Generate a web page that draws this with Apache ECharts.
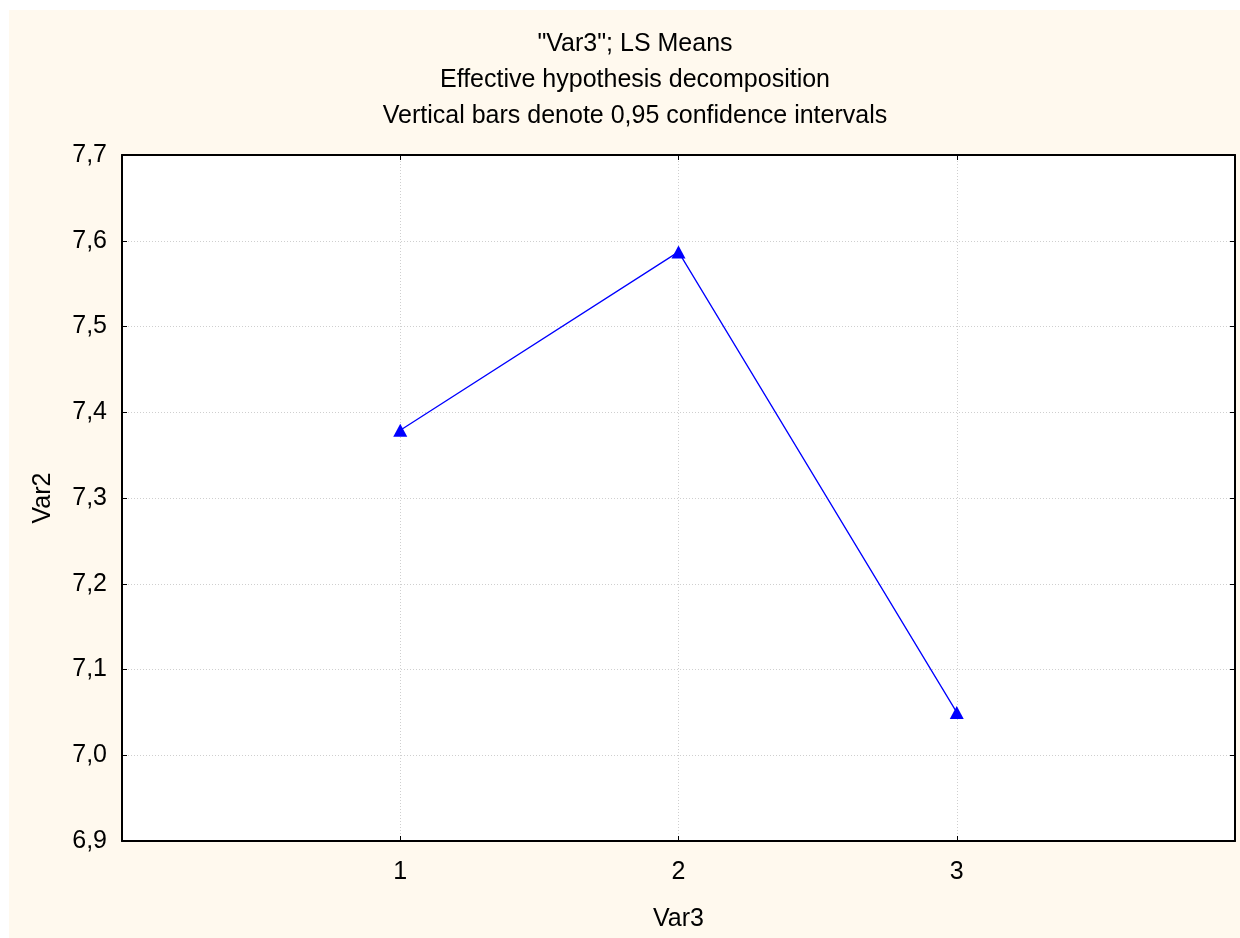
<!DOCTYPE html>
<html>
<head>
<meta charset="utf-8">
<script src="https://cdn.jsdelivr.net/npm/echarts@6/dist/echarts.min.js"></script>
<style>
html,body{margin:0;padding:0;background:#ffffff;width:1240px;height:938px;overflow:hidden;}
#chart{position:absolute;left:9px;top:10px;width:1231px;height:928px;}
</style>
</head>
<body>
<div id="chart"></div>
<script>
var titleLines = ['"Var3"; LS Means', 'Effective hypothesis decomposition', 'Vertical bars denote 0,95 confidence intervals'];
var xName = 'Var3';
var yName = 'Var2';
var categories = [1, 2, 3];
var means = [7.379, 7.587, 7.050];
var xRange = [0, 4];
var yRange = [6.9, 7.7];
var yStep = 0.1;

var FONT = '"Liberation Sans", Arial, sans-serif';
var chart = echarts.init(document.getElementById('chart'), null, {renderer: 'canvas'});

var gridLine = {show: true, lineStyle: {color: '#cfcfcf', type: [1, 2], width: 1}};
var axisLine = {show: true, onZero: false, lineStyle: {color: '#000', width: 2}};
var tick = {show: true, inside: true, length: 5, lineStyle: {color: '#000', width: 1}};

var option = {
  backgroundColor: '#FFF9EE',
  animation: false,
  graphic: titleLines.map(function (t, i) {
    return {
      type: 'text', x: 626, y: 34 + i * 36,
      style: {text: t, fill: '#000', font: '25px ' + FONT, textAlign: 'center', textVerticalAlign: 'middle'}
    };
  }),
  grid: {left: 113, top: 145, right: 5, bottom: 97, show: true, backgroundColor: '#ffffff', borderWidth: 0},
  xAxis: [{
    type: 'value', min: xRange[0], max: xRange[1], interval: 1, position: 'bottom',
    name: xName, nameLocation: 'middle', nameGap: 66,
    nameTextStyle: {fontFamily: FONT, fontSize: 25, color: '#000'},
    axisLine: axisLine, axisTick: tick, splitLine: gridLine,
    axisLabel: {fontFamily: FONT, fontSize: 25, color: '#000', margin: 19,
      formatter: function (v) { return categories.indexOf(v) >= 0 ? String(v) : ''; }}
  }, {
    type: 'value', min: xRange[0], max: xRange[1], interval: 1, position: 'top',
    axisLine: axisLine, axisTick: tick, splitLine: {show: false}, axisLabel: {show: false}
  }],
  yAxis: [{
    type: 'value', min: yRange[0], max: yRange[1], interval: yStep, position: 'left',
    name: yName, nameLocation: 'middle', nameGap: 66, nameRotate: 90,
    nameTextStyle: {fontFamily: FONT, fontSize: 25, color: '#000'},
    axisLine: axisLine, axisTick: tick, splitLine: gridLine,
    axisLabel: {fontFamily: FONT, fontSize: 25, color: '#000', margin: 15,
      formatter: function (v) { return v.toFixed(1).replace('.', ','); }}
  }, {
    type: 'value', min: yRange[0], max: yRange[1], interval: yStep, position: 'right',
    axisLine: axisLine, axisTick: tick, splitLine: {show: false}, axisLabel: {show: false}
  }],
  series: [{
    type: 'line',
    data: categories.map(function (c, i) { return [c, means[i]]; }),
    symbol: 'triangle', symbolSize: [14, 13],
    itemStyle: {color: '#0000FF'},
    lineStyle: {color: '#0000FF', width: 1.3},
    z: 5
  }]
};
chart.setOption(option);
</script>
</body>
</html>
